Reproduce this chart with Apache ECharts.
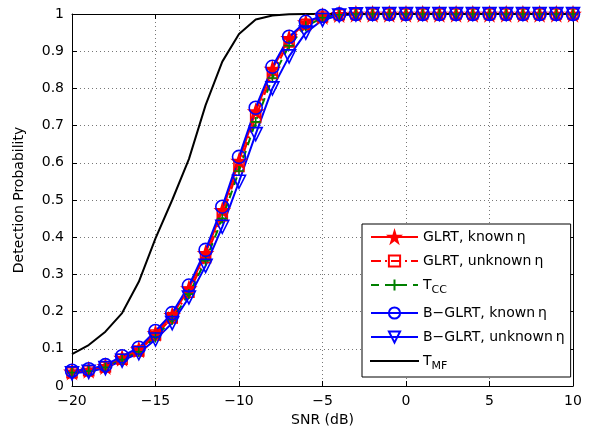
<!DOCTYPE html>
<html>
<head>
<meta charset="utf-8">
<script src="https://cdn.jsdelivr.net/npm/echarts@6/dist/echarts.min.js"></script>
<style>
  html, body { margin: 0; padding: 0; background: #fff; }
  #chart { width: 595px; height: 440px; }
</style>
</head>
<body>
<div id="chart"></div>
<script>
// SNR grid (dB)
const snr = [-20, -19, -18, -17, -16, -15, -14, -13, -12, -11, -10, -9, -8, -7, -6, -5,
  -4, -3, -2, -1, 0, 1, 2, 3, 4, 5, 6, 7, 8, 9, 10];

// detection probabilities
const glrtKnown = [0.038, 0.043, 0.053, 0.075, 0.098, 0.142, 0.190, 0.262, 0.357, 0.472, 0.605,
  0.738, 0.852, 0.935, 0.977, 0.994, 0.999, 1, 1, 1, 1, 1, 1, 1, 1, 1, 1, 1, 1, 1, 1];
const glrtUnknown = [0.036, 0.041, 0.051, 0.072, 0.094, 0.137, 0.183, 0.252, 0.345, 0.458, 0.590,
  0.722, 0.840, 0.925, 0.972, 0.992, 0.998, 1, 1, 1, 1, 1, 1, 1, 1, 1, 1, 1, 1, 1, 1];
const tcc = [0.036, 0.040, 0.050, 0.071, 0.092, 0.132, 0.178, 0.247, 0.337, 0.450, 0.578,
  0.710, 0.828, 0.915, 0.967, 0.990, 0.998, 1, 1, 1, 1, 1, 1, 1, 1, 1, 1, 1, 1, 1, 1];
const bglrtKnown = [0.041, 0.045, 0.056, 0.080, 0.103, 0.148, 0.196, 0.270, 0.366, 0.482, 0.616,
  0.748, 0.858, 0.939, 0.979, 0.995, 0.999, 1, 1, 1, 1, 1, 1, 1, 1, 1, 1, 1, 1, 1, 1];
const bglrtUnknown = [0.034, 0.038, 0.048, 0.068, 0.088, 0.125, 0.169, 0.238, 0.323, 0.428, 0.549,
  0.677, 0.800, 0.886, 0.950, 0.984, 0.996, 0.999, 1, 1, 1, 1, 1, 1, 1, 1, 1, 1, 1, 1, 1];
const tmf = [0.086, 0.110, 0.146, 0.196, 0.280, 0.397, 0.500, 0.610, 0.755, 0.872, 0.946,
  0.985, 0.996, 0.999, 1, 1, 1, 1, 1, 1, 1, 1, 1, 1, 1, 1, 1, 1, 1, 1, 1];

const legendNames = ['GLRT, known η', 'GLRT, unknown η', 'T_CC', 'B−GLRT, known η', 'B−GLRT, unknown η', 'T_MF'];

const STAR = 'path://M50,0 L61,35 L98,35 L68,57 L79,91 L50,70 L21,91 L32,57 L2,35 L39,35 Z';
const PLUS = 'path://M5,0 L5,10 M0,5 L10,5';
const BAR = 'path://M0,0 L47,0 L47,0.01 L0,0.01 Z';
const FONT = 'DejaVu Sans, sans-serif';

const pairs = ys => snr.map((x, i) => [x, ys[i]]);
const minus = v => String(v).replace('-', '\u2212');

const chart = echarts.init(document.getElementById('chart'), null, { renderer: 'canvas' });

function mkSeries(name, ys, color, lineType, symbol, size, fill, rotate) {
  return {
    name: name,
    type: 'line',
    data: pairs(ys),
    symbol: symbol,
    symbolSize: size,
    symbolRotate: rotate || 0,
    showSymbol: symbol !== 'none',
    lineStyle: { color: color, width: 2, type: lineType },
    itemStyle: { color: fill, borderColor: color, borderWidth: 1.6 },
    emphasis: { disabled: true },
    animation: false
  };
}

const gridLine = { show: true, lineStyle: { color: '#777', width: 1, type: [1, 3] } };
const boxLine = { show: true, onZero: false, lineStyle: { color: '#000', width: 1 } };
const inTick = { show: true, inside: true, length: 5, lineStyle: { color: '#000' } };

const option = {
  backgroundColor: '#fff',
  grid: { left: 72, right: 22, top: 14, bottom: 54 },
  legend: {
    orient: 'vertical',
    left: 362,
    top: 224,
    padding: [6, 6, 5, 8],
    itemWidth: 47,
    itemHeight: 14,
    itemGap: 10,
    backgroundColor: '#fff',
    borderColor: '#000',
    borderWidth: 1,
    borderRadius: 0,
    data: legendNames.map(n => n === 'T_MF' ? { name: n, icon: BAR } : n),
    formatter: n => {
      if (n === 'T_CC') return 'T{sub|CC}';
      if (n === 'T_MF') return 'T{sub|MF}';
      return n.replace(' η', '{eta|η}');
    },
    textStyle: {
      fontFamily: FONT, fontSize: 14, color: '#000',
      rich: {
        sub: { fontFamily: FONT, fontSize: 11, color: '#000', verticalAlign: 'bottom', lineHeight: 22 },
        eta: { fontFamily: FONT, fontSize: 14, color: '#000', padding: [0, 0, 0, 3] }
      }
    }
  },
  xAxis: [{
    type: 'value', min: -20, max: 10, interval: 5,
    name: 'SNR (dB)', nameLocation: 'middle', nameGap: 27,
    nameTextStyle: { fontFamily: FONT, fontSize: 14, color: '#000' },
    axisLine: boxLine,
    axisTick: inTick,
    axisLabel: { fontFamily: FONT, fontSize: 14, color: '#000', margin: 8, formatter: minus },
    splitLine: gridLine
  }, {
    type: 'value', min: -20, max: 10, interval: 5, position: 'top',
    axisLine: boxLine,
    axisTick: inTick,
    axisLabel: { show: false }, splitLine: { show: false }
  }],
  yAxis: [{
    type: 'value', min: 0, max: 1, interval: 0.1,
    name: 'Detection Probability', nameLocation: 'middle', nameGap: 46,
    nameTextStyle: { fontFamily: FONT, fontSize: 14, color: '#000' },
    axisLine: boxLine,
    axisTick: inTick,
    axisLabel: { fontFamily: FONT, fontSize: 14, color: '#000', margin: 8,
      formatter: v => String(Math.round(v * 10) / 10) },
    splitLine: gridLine
  }, {
    type: 'value', min: 0, max: 1, interval: 0.1, position: 'right',
    axisLine: boxLine,
    axisTick: inTick,
    axisLabel: { show: false }, splitLine: { show: false }
  }],
  series: [
    mkSeries(legendNames[0], glrtKnown, '#ff0000', 'solid', STAR, 13, '#ff0000'),
    mkSeries(legendNames[1], glrtUnknown, '#ff0000', [10, 4, 2, 4], 'rect', 10, 'rgba(0,0,0,0)'),
    mkSeries(legendNames[2], tcc, '#008000', [8, 6], PLUS, 10, 'rgba(0,0,0,0)'),
    mkSeries(legendNames[3], bglrtKnown, '#0000ff', 'solid', 'circle', 13, 'rgba(0,0,0,0)'),
    mkSeries(legendNames[4], bglrtUnknown, '#0000ff', 'solid', 'triangle', 13, 'rgba(0,0,0,0)', 180),
    mkSeries(legendNames[5], tmf, '#000000', 'solid', 'none', 0, '#000000')
  ]
};

chart.setOption(option);
</script>
</body>
</html>
